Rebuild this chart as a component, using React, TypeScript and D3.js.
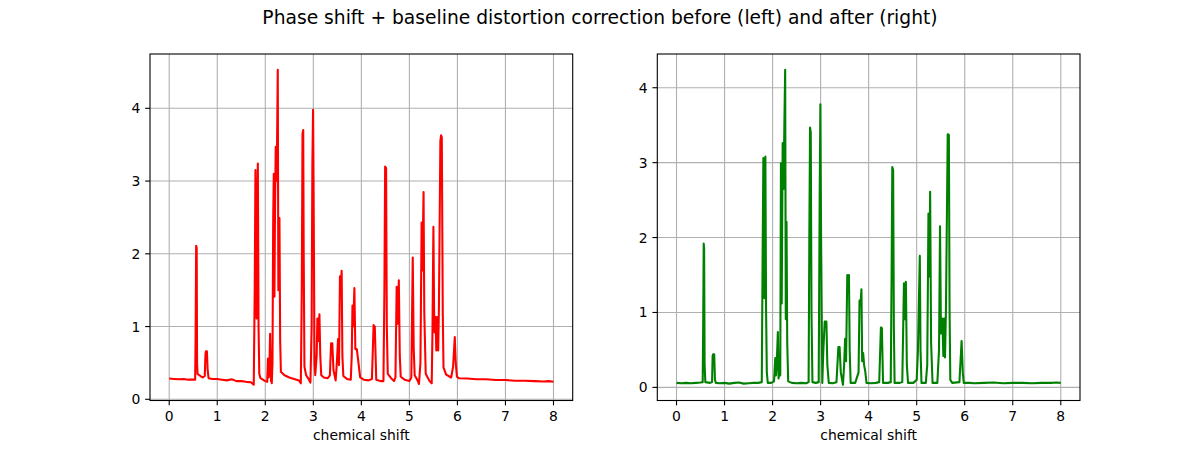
import React from "react";
import * as d3 from "d3";

// Chemical shift positions (ppm) and intensities, before correction (left)
const shiftBefore = [
  0.0, 0.1, 0.2, 0.3, 0.4, 0.5, 0.54, 0.55, 0.561, 0.572, 0.58, 0.59, 0.65, 0.7, 0.74, 0.755, 0.765, 0.785, 0.8, 0.82,
  0.9, 1.0, 1.1, 1.2, 1.3, 1.4, 1.5, 1.6, 1.7, 1.76, 1.78, 1.795, 1.81, 1.82, 1.835, 1.845, 1.86, 1.875, 1.9, 1.95,
  2.0, 2.04, 2.055, 2.07, 2.085, 2.1, 2.115, 2.12, 2.125, 2.135, 2.15, 2.165, 2.177, 2.19, 2.205, 2.218, 2.23, 2.245, 2.26, 2.272,
  2.285, 2.295, 2.31, 2.325, 2.4, 2.5, 2.6, 2.7, 2.74, 2.76, 2.775, 2.79, 2.8, 2.815, 2.85, 2.9, 2.94, 2.965, 2.98, 2.995,
  3.005, 3.025, 3.04, 3.07, 3.085, 3.1, 3.127, 3.145, 3.165, 3.22, 3.3, 3.345, 3.37, 3.395, 3.42, 3.465, 3.49, 3.515, 3.535, 3.555,
  3.57, 3.59, 3.605, 3.625, 3.7, 3.78, 3.8, 3.815, 3.83, 3.855, 3.875, 3.905, 3.935, 3.975, 4.05, 4.15, 4.22, 4.255, 4.28, 4.31,
  4.4, 4.46, 4.48, 4.495, 4.515, 4.53, 4.55, 4.62, 4.68, 4.71, 4.735, 4.755, 4.78, 4.8, 4.82, 4.9, 5.0, 5.04, 5.07, 5.09,
  5.11, 5.17, 5.2, 5.23, 5.255, 5.27, 5.295, 5.31, 5.34, 5.42, 5.465, 5.48, 5.5, 5.515, 5.525, 5.545, 5.56, 5.575, 5.6, 5.615,
  5.645, 5.66, 5.675, 5.695, 5.71, 5.765, 5.87, 5.91, 5.945, 5.965, 5.99, 6.03, 6.2, 6.4, 6.6, 6.8, 7.0, 7.2, 7.4, 7.6,
  7.8, 7.9, 8.0,
];
const intensityBefore = [
  0.285, 0.28, 0.275, 0.28, 0.27, 0.27, 0.27, 0.9, 2.11, 2.08, 0.5, 0.35, 0.32, 0.3, 0.32, 0.62, 0.66, 0.66, 0.4, 0.29,
  0.28, 0.28, 0.27, 0.26, 0.275, 0.25, 0.25, 0.24, 0.235, 0.2, 1.5, 3.15, 1.3, 1.11, 2.8, 3.24, 1.0, 0.35, 0.29, 0.27,
  0.25, 0.24, 0.56, 0.3, 0.4, 0.9, 0.4, 0.25, 0.56, 0.22, 0.5, 2.5, 3.1, 1.41, 2.8, 3.47, 3.0, 3.5, 4.53, 1.5,
  2.0, 2.49, 0.8, 0.38, 0.33, 0.3, 0.28, 0.26, 0.22, 1.5, 3.65, 3.7, 2.0, 0.45, 0.33, 0.28, 0.23, 1.0, 3.2, 3.98,
  3.0, 0.5, 0.33, 0.6, 1.11, 0.8, 1.17, 0.6, 0.33, 0.3, 0.29, 0.33, 0.77, 0.77, 0.4, 0.26, 0.5, 0.83, 0.47, 1.69,
  1.55, 1.765, 0.6, 0.32, 0.28, 0.27, 0.6, 1.29, 1.0, 1.53, 0.69, 0.69, 0.53, 0.3, 0.27, 0.26, 0.28, 1.02, 1.0, 0.27,
  0.25, 0.25, 1.5, 3.2, 3.18, 1.0, 0.35, 0.29, 0.25, 0.3, 1.545, 1.04, 1.635, 0.6, 0.31, 0.27, 0.25, 0.3, 1.95, 0.7,
  0.33, 0.26, 0.21, 0.5, 2.43, 1.77, 2.85, 1.2, 0.35, 0.25, 0.22, 0.9, 2.37, 1.2, 0.92, 1.13, 0.67, 1.13, 0.67, 1.27,
  3.55, 3.63, 3.6, 1.2, 0.44, 0.34, 0.3, 0.45, 0.855, 0.5, 0.31, 0.29, 0.285, 0.275, 0.275, 0.265, 0.265, 0.255, 0.255, 0.25,
  0.245, 0.25, 0.24,
];

// After phase shift + baseline distortion correction (right)
const shiftAfter = [
  0.0, 0.1, 0.2, 0.3, 0.4, 0.5, 0.545, 0.555, 0.566, 0.575, 0.585, 0.6, 0.7, 0.74, 0.752, 0.762, 0.785, 0.8, 0.82, 0.9,
  1.0, 1.1, 1.2, 1.3, 1.4, 1.5, 1.6, 1.7, 1.775, 1.79, 1.808, 1.82, 1.83, 1.84, 1.85, 1.865, 1.88, 1.9, 1.97, 2.03,
  2.056, 2.07, 2.085, 2.11, 2.125, 2.15, 2.16, 2.174, 2.19, 2.21, 2.23, 2.245, 2.262, 2.275, 2.29, 2.305, 2.325, 2.4, 2.5, 2.6,
  2.7, 2.75, 2.765, 2.78, 2.795, 2.81, 2.83, 2.9, 2.96, 2.98, 2.995, 3.01, 3.035, 3.055, 3.085, 3.12, 3.14, 3.17, 3.25, 3.33,
  3.37, 3.395, 3.42, 3.465, 3.49, 3.51, 3.53, 3.555, 3.575, 3.59, 3.605, 3.625, 3.72, 3.79, 3.81, 3.83, 3.85, 3.865, 3.885, 3.905,
  3.93, 3.955, 4.05, 4.15, 4.22, 4.255, 4.275, 4.3, 4.4, 4.46, 4.478, 4.492, 4.51, 4.525, 4.54, 4.65, 4.7, 4.735, 4.755, 4.775,
  4.795, 4.82, 4.93, 5.0, 5.025, 5.065, 5.08, 5.1, 5.19, 5.22, 5.245, 5.265, 5.28, 5.3, 5.33, 5.43, 5.465, 5.486, 5.505, 5.535,
  5.555, 5.575, 5.59, 5.61, 5.646, 5.67, 5.685, 5.7, 5.74, 5.89, 5.935, 5.96, 5.98, 6.1, 6.2, 6.4, 6.6, 6.8, 7.0, 7.2,
  7.4, 7.6, 7.8, 7.9, 8.0,
];
const intensityAfter = [
  0.06, 0.055, 0.06, 0.055, 0.06, 0.065, 0.07, 0.8, 1.92, 1.85, 0.3, 0.07, 0.06, 0.07, 0.42, 0.44, 0.44, 0.1, 0.06, 0.055,
  0.06, 0.05, 0.06, 0.065, 0.05, 0.055, 0.06, 0.06, 0.07, 1.5, 3.06, 1.3, 1.19, 2.9, 3.08, 1.0, 0.2, 0.06, 0.06, 0.08,
  0.39, 0.16, 0.3, 0.74, 0.12, 0.41, 0.16, 2.99, 1.12, 3.26, 2.65, 3.5, 4.24, 0.91, 2.21, 0.6, 0.08, 0.06, 0.055, 0.06,
  0.055, 0.07, 2.0, 3.47, 3.4, 1.0, 0.07, 0.06, 0.07, 2.5, 3.78, 2.0, 0.06, 0.47, 0.88, 0.88, 0.3, 0.06, 0.055, 0.07,
  0.54, 0.54, 0.2, 0.035, 0.3, 0.65, 0.35, 1.5, 1.4, 1.5, 0.5, 0.06, 0.06, 0.2, 1.16, 1.1, 1.31, 0.35, 0.46, 0.3,
  0.21, 0.06, 0.055, 0.06, 0.07, 0.8, 0.79, 0.06, 0.06, 0.07, 1.5, 2.94, 2.9, 0.8, 0.06, 0.06, 0.07, 1.39, 0.91, 1.41,
  0.3, 0.06, 0.06, 0.1, 0.47, 1.755, 0.5, 0.06, 0.06, 0.3, 2.32, 1.48, 2.61, 0.6, 0.06, 0.06, 0.5, 2.15, 0.72, 0.92,
  0.42, 0.92, 0.4, 1.07, 3.38, 3.37, 1.0, 0.1, 0.06, 0.07, 0.62, 0.2, 0.06, 0.06, 0.055, 0.06, 0.065, 0.055, 0.06, 0.06,
  0.055, 0.06, 0.06, 0.065, 0.06,
];

const xTicks = [0, 1, 2, 3, 4, 5, 6, 7, 8];
const yTicks = [0, 1, 2, 3, 4];
const title = "Phase shift + baseline distortion correction before (left) and after (right)";
const xLabel = "chemical shift";

const W = 1200;
const H = 450;
const FONT = "DejaVu Sans, Liberation Sans, sans-serif";

interface PanelProps {
  x0: number;
  x1: number;
  xs: number[];
  ys: number[];
  color: string;
}

function Panel({ x0, x1, xs, ys, color }: PanelProps) {
  const top = 54;
  const bottom = 400.5;
  const xMin = d3.min(xs)!;
  const xMax = d3.max(xs)!;
  const xPad = (xMax - xMin) * 0.05;
  const yMin = d3.min(ys)!;
  const yMax = d3.max(ys)!;
  const yPad = (yMax - yMin) * 0.05;
  const x = d3.scaleLinear().domain([xMin - xPad, xMax + xPad]).range([x0, x1]);
  const y = d3.scaleLinear().domain([yMin - yPad, yMax + yPad]).range([bottom, top]);
  const pts: [number, number][] = xs.map((v, i) => [v, ys[i]]);
  const line = d3
    .line<[number, number]>()
    .x((d) => x(d[0]))
    .y((d) => y(d[1]));
  const tickLen = 4.86;
  const grid = "#b0b0b0";
  return (
    <g>
      {xTicks.map((t) => (
        <line key={"gx" + t} x1={x(t)} x2={x(t)} y1={top} y2={bottom} stroke={grid} strokeWidth={1.1} />
      ))}
      {yTicks.map((t) => (
        <line key={"gy" + t} x1={x0} x2={x1} y1={y(t)} y2={y(t)} stroke={grid} strokeWidth={1.1} />
      ))}
      <path d={line(pts) ?? ""} fill="none" stroke={color} strokeWidth={2.08} strokeLinejoin="round" />
      <rect x={x0} y={top} width={x1 - x0} height={bottom - top} fill="none" stroke="#000" strokeWidth={1.1} />
      {xTicks.map((t) => (
        <g key={"tx" + t}>
          <line x1={x(t)} x2={x(t)} y1={bottom} y2={bottom + tickLen} stroke="#000" strokeWidth={1.1} />
          <text x={x(t)} y={421} textAnchor="middle" fontSize={13.9} fontFamily={FONT} fill="#000">
            {t}
          </text>
        </g>
      ))}
      {yTicks.map((t) => (
        <g key={"ty" + t}>
          <line x1={x0 - tickLen} x2={x0} y1={y(t)} y2={y(t)} stroke="#000" strokeWidth={1.1} />
          <text
            x={x0 - 9.7}
            y={y(t)}
            textAnchor="end"
            dominantBaseline="central"
            fontSize={13.9}
            fontFamily={FONT}
            fill="#000"
          >
            {t}
          </text>
        </g>
      ))}
      <text x={(x0 + x1) / 2} y={440} textAnchor="middle" fontSize={13.9} fontFamily={FONT} fill="#000">
        {xLabel}
      </text>
    </g>
  );
}

export default function App() {
  return (
    <svg width={W} height={H} viewBox={`0 0 ${W} ${H}`} style={{ display: "block", position: "absolute", left: 0, top: 0, background: "#fff" }}>
      <rect width={W} height={H} fill="#fff" />
      <text x={600} y={24} textAnchor="middle" fontSize={18.7} fontFamily={FONT} fill="#000">
        {title}
      </text>
      <Panel x0={150} x1={572.7} xs={shiftBefore} ys={intensityBefore} color="#ff0000" />
      <Panel x0={657.3} x1={1080} xs={shiftAfter} ys={intensityAfter} color="#008000" />
    </svg>
  );
}
